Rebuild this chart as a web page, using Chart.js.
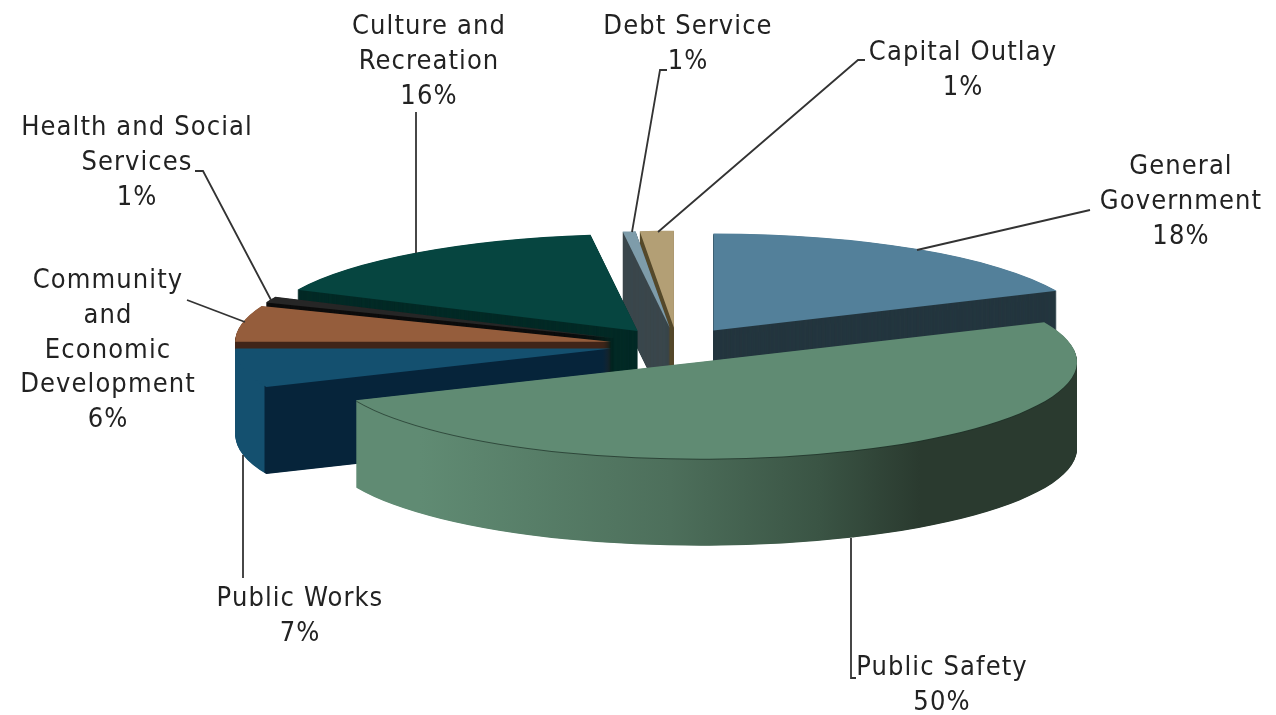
<!DOCTYPE html>
<html>
<head>
<meta charset="utf-8">
<style>
  html, body { margin: 0; background: #fff; }
  canvas { display: block; }
</style>
<script src="https://cdn.jsdelivr.net/npm/chart.js@4/dist/chart.umd.js"></script>
</head>
<body>
<canvas id="chart" width="1276" height="715"></canvas>
<script>
// values, small ones keep the widths of the thin slices
const categories = ["General Government", "Public Safety", "Public Works", "Community and Economic Development",
  "Health and Social Services", "Culture and Recreation", "Debt Service", "Capital Outlay"];
const values = [18.3, 50.2, 6.5, 6, 1, 16, 0.55, 1.45];
const percentLabels = ["18%", "50%", "7%", "6%", "1%", "16%", "1%", "1%"];

const topColors = ["#53809a", "#608b73", "#14506f", "#955d3c", "#262626", "#064540", "#7e9caa", "#b39f75"];
const sideColors = ["#24363f", null, null, "#40261a", "#0d0d0d", "#032a26", "#3b474c", "#564a2c"];

// back to front, this is the order the slices have to be painted in
const paintOrder = [0, 7, 6, 5, 4, 3, 2, 1];

// pie geometry on the page
const centerX = 677, centerY = 345;
const radius = 376, squash = 0.258, explode = 67, depth = 87;
// public safety sits a little left of where the explode puts it
const sliceNudge = { 1: [-3, 1] };

// text blocks: [category index, centre x, first line y, lines]
const labelBlocks = [
  [0, 1181, 167, ["General", "Government"]],
  [1, 942, 668, ["Public Safety"]],
  [2, 300, 599, ["Public Works"]],
  [3, 108, 281, ["Community", "and", "Economic", "Development"]],
  [4, 137, 128, ["Health and Social", "Services"]],
  [5, 429, 27, ["Culture and", "Recreation"]],
  [6, 688, 27, ["Debt Service"]],
  [7, 963, 53, ["Capital Outlay"]],
];
const lineHeight = 34.8;

const leaders = [
  [[1090, 210], [917, 250]],
  [[851, 538], [851, 678], [856, 678]],
  [[243, 455], [243, 578]],
  [[187, 300], [245, 322]],
  [[195, 171], [203, 171], [271, 300]],
  [[416, 112], [416, 253]],
  [[667, 70], [660, 70], [632, 232]],
  [[865, 60], [858, 60], [658, 232]],
];

function sideFill(ctx, index, toLocal) {
  if (index === 1) {
    // public safety: light on the left, dark round the right
    const g = ctx.createLinearGradient(toLocal(420), 0, toLocal(920), 0);
    g.addColorStop(0, "#608b73");
    g.addColorStop(0.5, "#4d6f5b");
    g.addColorStop(0.8, "#3a5444");
    g.addColorStop(1, "#2a3a2f");
    return g;
  }
  if (index === 2) {
    // public works: curved outside is lighter than the cut face
    const g = ctx.createLinearGradient(toLocal(264), 0, toLocal(265), 0);
    g.addColorStop(0, "#14506f");
    g.addColorStop(1, "#06243a");
    return g;
  }
  return sideColors[index];
}

const pie3d = {
  id: "pie3d",
  beforeDatasetDraw(chart) {
    const ctx = chart.ctx;
    const arcs = chart.getDatasetMeta(0).data;
    paintOrder.forEach(i => {
      const el = arcs[i];
      const base = el.options;
      const mid = (el.startAngle + el.endAngle) / 2;
      const nudge = sliceNudge[i] || [0, 0];
      const dx = Math.cos(mid) * explode + nudge[0];
      const dy = Math.sin(mid) * explode * squash + nudge[1];
      const paint = (lift, color) => {
        el.options = Object.create(base, { backgroundColor: { value: color } });
        ctx.save();
        ctx.translate(centerX + dx, centerY + dy + lift);
        ctx.scale(1, squash);
        ctx.translate(-el.x, -el.y);
        el.draw(ctx);
        ctx.restore();
      };
      const toLocal = x => x - centerX - dx + el.x;
      const fill = sideFill(ctx, i, toLocal);
      for (let k = depth; k > 0; k -= 0.5) paint(k, fill);
      if (i === 1) paint(1, "rgba(30,50,40,0.7)");
      paint(0, topColors[i]);
      el.options = base;
    });
    return false;
  },
  afterDraw(chart) {
    const ctx = chart.ctx;
    ctx.save();
    ctx.strokeStyle = "#333";
    ctx.lineWidth = 1.8;
    leaders.forEach(pts => {
      ctx.beginPath();
      pts.forEach((p, n) => n ? ctx.lineTo(p[0], p[1]) : ctx.moveTo(p[0], p[1]));
      ctx.stroke();
    });
    ctx.fillStyle = "#222";
    ctx.font = '27px "DejaVu Sans Condensed", "DejaVu Sans"';
    ctx.letterSpacing = "1.1px";
    ctx.textAlign = "center";
    ctx.textBaseline = "middle";
    labelBlocks.forEach(([i, x, y, lines]) => {
      [...lines, percentLabels[i]].forEach((t, n) => ctx.fillText(t, x, y + n * lineHeight));
    });
    ctx.restore();
  },
};

new Chart(document.getElementById("chart"), {
  type: "pie",
  data: {
    labels: categories,
    datasets: [{ data: values, backgroundColor: topColors, borderWidth: 0 }],
  },
  options: {
    responsive: false,
    animation: false,
    radius: radius,
    events: [],
    plugins: { legend: { display: false }, tooltip: { enabled: false } },
  },
  plugins: [pie3d],
});
</script>
</body>
</html>
